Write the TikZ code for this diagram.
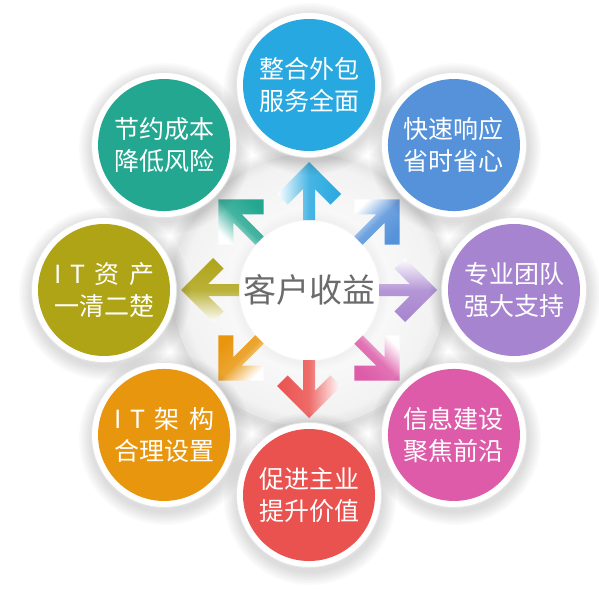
\documentclass[tikz,border=0pt]{standalone}
\usepackage{fontspec}
\setmainfont{Noto Sans CJK SC}
\usepackage{tikz}
\usetikzlibrary{calc}
\definecolor{softcyan}{RGB}{39,168,224}
\definecolor{softblue}{RGB}{85,146,218}
\definecolor{softpurple}{RGB}{167,132,207}
\definecolor{softpink}{RGB}{221,91,168}
\definecolor{softred}{RGB}{234,82,79}
\definecolor{softorange}{RGB}{232,150,14}
\definecolor{softolive}{RGB}{174,164,22}
\definecolor{softteal}{RGB}{35,167,144}
\pgfdeclareradialshading{ringshade}{\pgfpoint{0bp}{0bp}}{color(0bp)=(white); color(16bp)=(black!3);
  color(23bp)=(black!5); color(25bp)=(black!10); color(50bp)=(black!10)}
\pgfdeclareradialshading{hubglow}{\pgfpoint{0bp}{0bp}}{color(0bp)=(white); color(21.6bp)=(white);
  color(22.2bp)=(black!6); color(25bp)=(black!3); color(50bp)=(black!3)}
\tikzset{
  bubble/.style    ={circle, minimum size=132pt, inner sep=0pt, align=center, text=white,
                     font=\fontsize{25}{32}\selectfont},
  rim/.style       ={fill=white, draw=black!10, line width=0.8pt},
  hubtext/.style   ={font=\fontsize{33}{40}\selectfont, text=black!58},
  shadowlayer/.style={fill=black, opacity=0.02},
  arrowshade/.style={left color=white, right color=#1, middle color=#1!85!white}
}
\begin{document}
\begin{tikzpicture}[x=1pt, y=1pt]
\useasboundingbox (0,0) rectangle (598,-599);
% Ring
\foreach \r in {137,139,...,149}
  \fill[shadowlayer] (309,-295) circle (\r);
\shade[shading=ringshade, draw=black!7] (309,-290) circle (136);
\shade[shading=hubglow] (309,-290) circle (80);
\node[hubtext] (hub) at (309,-290) {客户收益};
% Arrows
\foreach \ang/\col in {90/softcyan, 45/softblue, 0/softpurple, -45/softpink,
                       -90/softred, -135/softorange, 180/softolive, 135/softteal}{
  \begin{scope}[shift={(hub.center)}, rotate=\ang]
    \shade[arrowshade=\col, shading angle=\ang]
      (128,0) -- (96,32) -- (85.4,21.4) -- (100.8,6) -- (70,6) -- (70,-6)
      -- (100.8,-6) -- (85.4,-21.4) -- (96,-32) -- cycle;
  \end{scope}
}
% Bubbles
\foreach \ang in {90,45,...,-225}
  \foreach \r in {74,76,...,86}
    \fill[shadowlayer] ($(hub.center)+(\ang:205)+(1,-4)$) circle (\r);
\foreach \ang/\col/\txt [count=\i] in {90/softcyan/{整合外包\\服务全面},
    45/softblue/{快速响应\\省时省心}, 0/softpurple/{专业团队\\强大支持},
    -45/softpink/{信息建设\\聚焦前沿}, -90/softred/{促进主业\\提升价值},
    -135/softorange/{\makebox[4em][s]{I T 架 构}\\合理设置},
    180/softolive/{\makebox[4em][s]{I T 资 产}\\一清二楚},
    135/softteal/{节约成本\\降低风险}}{
  \draw[rim] ($(hub.center)+(\ang:205)$) circle (72.5);
  \node[bubble, fill=\col] (b\i) at ($(hub.center)+(\ang:205)$) {\txt};
}
\end{tikzpicture}
\end{document}
